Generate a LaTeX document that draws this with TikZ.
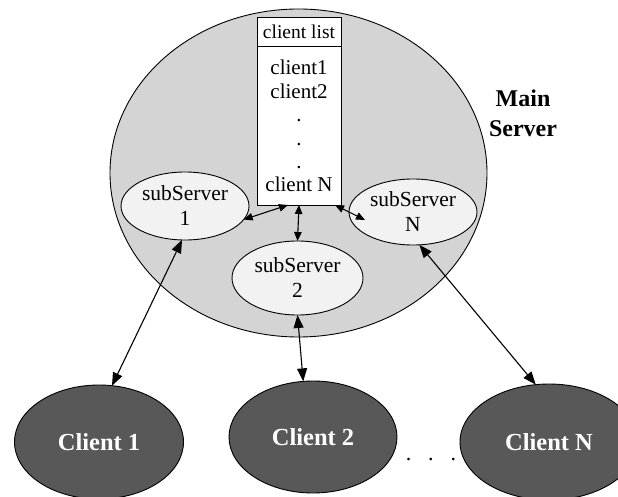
\documentclass[tikz,border=0pt]{standalone}
\usepackage{fontspec}
\setmainfont{Liberation Serif}
\usetikzlibrary{shapes.geometric,arrows.meta,calc}
\definecolor{mainfill}{RGB}{212,212,212}
\definecolor{subfill}{RGB}{242,242,242}
\definecolor{clientfill}{RGB}{88,88,88}
\begin{document}
\begin{tikzpicture}[x=1pt,y=-1pt,
  every node/.style={inner sep=0pt,outer sep=0pt},
  mainsrv/.style={ellipse,draw=black,line width=0.9pt,fill=mainfill},
  listbox/.style={rectangle,draw=black,line width=0.9pt,fill=white},
  sub/.style={ellipse,draw=black,line width=0.9pt,fill=subfill,align=center,font=\fontsize{21.5}{25}\selectfont},
  client/.style={ellipse,draw=black,line width=0.9pt,fill=clientfill,text=white,font=\bfseries\fontsize{24.5}{29}\selectfont},
  bigarrow/.style={line width=1.1pt,{Triangle[length=13pt,width=10pt]}-{Triangle[length=13pt,width=10pt]}},
  smallarrow/.style={line width=1.1pt,{Triangle[length=9pt,width=7.5pt]}-{Triangle[length=9pt,width=7.5pt]}}]
\useasboundingbox (0,0) rectangle (618,497);
\clip (0,0) rectangle (618,497);
\node[mainsrv, minimum width=377pt, minimum height=328pt] (main) at (298.5,173) {};
\node[listbox, minimum width=84pt, minimum height=188pt] (box) at (299,111) {};
\draw[line width=0.9pt] ($(box.north west)+(0,29)$) -- ($(box.north east)+(0,29)$);
\node[font=\fontsize{19.5}{22}\selectfont] (hdr) at (299,31.5) {client list};
\node[align=center, font=\fontsize{21}{23.4}\selectfont] (lst) at (299,126.3) {client1\\client2\\.\\.\\.\\client N};
\node[sub, minimum width=128pt, minimum height=68pt] (s1) at (185,206) {subServer\\1};
\node[sub, minimum width=131pt, minimum height=74pt] (s2) at (297.5,278) {subServer\\2};
\node[sub, minimum width=128pt, minimum height=66pt] (sN) at (413,212) {subServer\\N};
\node[client, minimum width=169pt, minimum height=114pt] (c1) at (99,442) {Client 1};
\node[client, minimum width=168pt, minimum height=112pt] (c2) at (313,437) {Client 2};
\node[client, minimum width=178pt, minimum height=116pt] (cN) at (549,442) {Client N};
\node[align=center, font=\bfseries\fontsize{24}{30}\selectfont] (mslbl) at (523,113) {Main\\Server};
\node[font=\fontsize{22}{22}\selectfont] (dots) at (431,460) {.\hspace{17pt}.\hspace{17pt}.};
\draw[bigarrow] (s1.-95) -- (c1.77);
\draw[bigarrow] (s2.-90) -- (c2.100);
\draw[bigarrow] (sN.-79) -- (cN.103);
\draw[smallarrow] (box.south) -- (s2.north);
\draw[smallarrow] ([xshift=31pt]box.south west) -- (s1.-13);
\draw[smallarrow] ([xshift=-6pt]box.south east) -- ([yshift=-8pt]$(sN.west)!0.25!(sN.center)$);
\end{tikzpicture}
\end{document}
